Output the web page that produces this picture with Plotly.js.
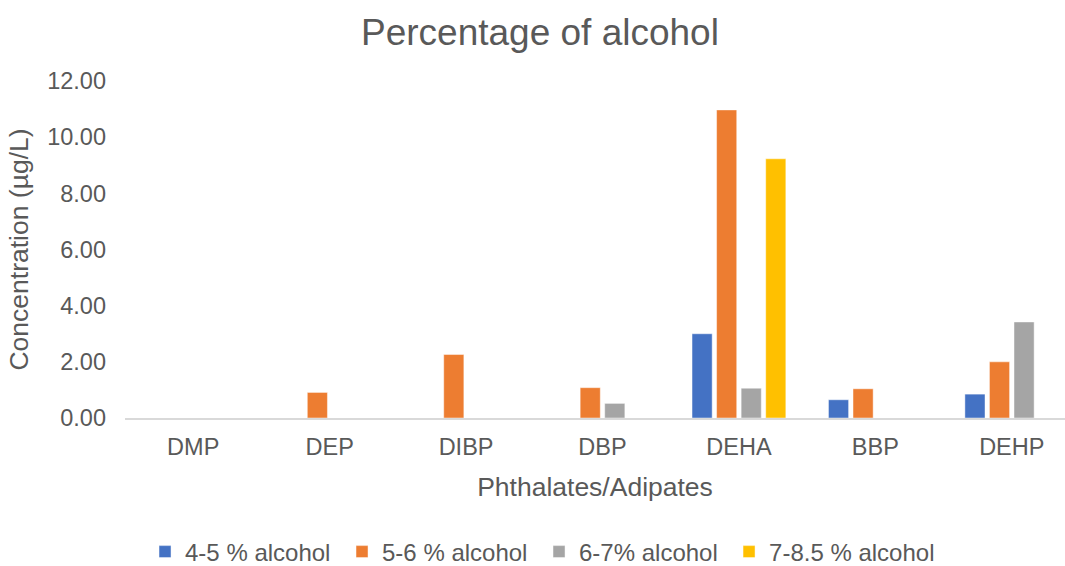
<!DOCTYPE html>
<html>
<head>
<meta charset="utf-8">
<script src="https://cdn.plot.ly/plotly-3.0.1.min.js"></script>
<style>
  html, body { margin: 0; padding: 0; background: #ffffff; }
  #chart { width: 1065px; height: 566px; }
</style>
</head>
<body>
<div id="chart"></div>
<script>
// Compounds measured
const categories = ["DMP", "DEP", "DIBP", "DBP", "DEHA", "BBP", "DEHP"];

// Concentration (µg/L) by alcohol band
const alc4to5 = [0, 0, 0, 0, 3.00, 0.65, 0.85];
const alc5to6 = [0, 0.91, 2.26, 1.08, 10.97, 1.04, 2.00];
const alc6to7 = [0, 0, 0, 0.52, 1.06, 0, 3.42];
const alc7to85 = [0, 0, 0, 0, 9.23, 0, 0];

const seriesNames = ["4-5 % alcohol", "5-6 % alcohol", "6-7% alcohol", "7-8.5 % alcohol"];
const seriesColors = ["#4472C4", "#ED7D31", "#A5A5A5", "#FFC000"];
const seriesValues = [alc4to5, alc5to6, alc6to7, alc7to85];

const textColor = "#595959";
const fontFamily = "'Liberation Sans', Arial, sans-serif";

// The widest entry gets its own legend box so that the fixed-width
// entries of the first box do not clip its text.
const traces = seriesValues.map((vals, i) => ({
  type: "bar",
  name: seriesNames[i],
  x: categories,
  y: vals,
  legend: i < 3 ? "legend" : "legend2",
  marker: {
    color: seriesColors[i],
    line: { color: "rgba(255,255,255,0.45)", width: 1 }
  },
  hoverinfo: "x+y+name"
}));

const legendBase = {
  orientation: "h",
  xref: "paper",
  xanchor: "left",
  yref: "container",
  y: 0.0247,
  yanchor: "middle",
  font: { size: 24, color: textColor },
  itemwidth: 30,
  bgcolor: "rgba(0,0,0,0)",
  traceorder: "normal"
};

const layout = {
  width: 1065,
  height: 566,
  paper_bgcolor: "#ffffff",
  plot_bgcolor: "#ffffff",
  font: { family: fontFamily, color: textColor, size: 24 },
  margin: { l: 125, r: 0, t: 81, b: 147.5, pad: 0, autoexpand: false },
  barmode: "group",
  bargap: 0.28,
  bargroupgap: 0.18,
  title: {
    text: "Percentage of alcohol",
    font: { size: 37, color: textColor, family: fontFamily },
    xref: "container",
    x: 0.507,
    xanchor: "center",
    yref: "container",
    y: 0.944,
    yanchor: "middle"
  },
  xaxis: {
    type: "category",
    range: [-0.5, 6.39],
    automargin: false,
    showgrid: false,
    showline: true,
    linecolor: "#D9D9D9",
    linewidth: 1.5,
    ticks: "",
    ticklabelstandoff: 7,
    tickfont: { size: 23.5, color: textColor },
    zeroline: false,
    title: {
      text: "Phthalates/Adipates",
      font: { size: 26.5, color: textColor },
      standoff: 18
    }
  },
  yaxis: {
    range: [0, 12],
    dtick: 2,
    tick0: 0,
    tickformat: ".2f",
    automargin: false,
    showgrid: false,
    zeroline: false,
    showline: false,
    ticks: "",
    ticklabelstandoff: 18,
    tickfont: { size: 23.5, color: textColor },
    title: {
      text: "Concentration (µg/L)",
      font: { size: 26.5, color: textColor },
      standoff: 10
    }
  },
  showlegend: true,
  legend: Object.assign({}, legendBase, {
    x: 0.0213,
    entrywidth: 152,
    entrywidthmode: "pixels"
  }),
  legend2: Object.assign({}, legendBase, {
    x: 0.6426
  })
};

Plotly.newPlot("chart", traces, layout, { displayModeBar: false, staticPlot: true });
</script>
</body>
</html>
